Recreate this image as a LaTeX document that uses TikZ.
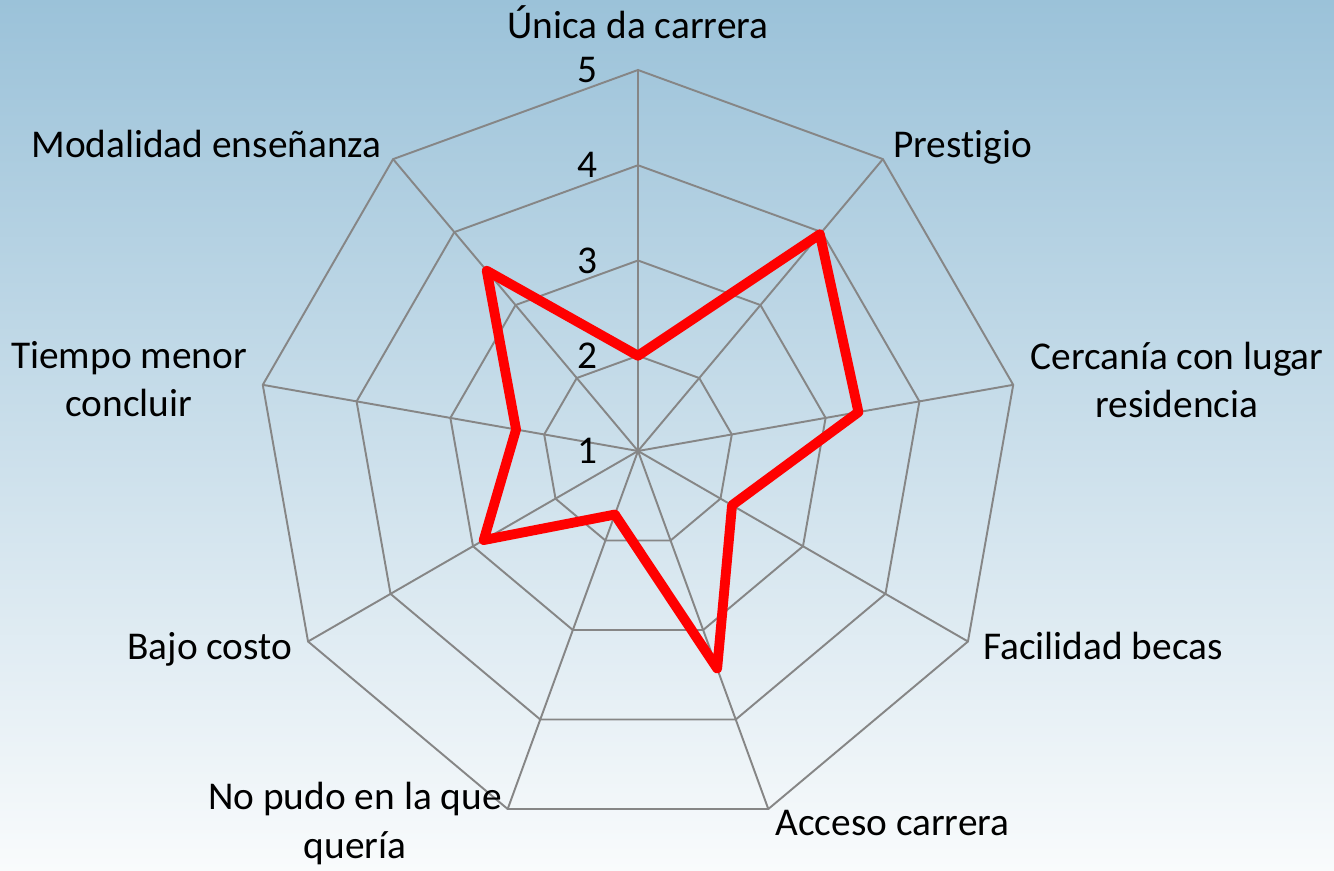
\documentclass[tikz,border=0pt]{standalone}
\usepackage{fontspec}
\setmainfont{Carlito}[Ligatures=NoCommon]
\definecolor{bgtop}{RGB}{155,194,217}
\definecolor{bgbottom}{RGB}{249,251,252}
\definecolor{gridgray}{RGB}{134,134,134}
\begin{document}
\begin{tikzpicture}
            [x=0.02cm,y=0.02cm,
             Grid/.style={draw=gridgray,line width=1.1pt},
             Series/.style={draw=red,line width=5.6pt,line join=round},
             Label/.style={inner sep=0pt,font=\fontsize{22.4pt}{27.6pt}\selectfont},
             Tick/.style={Label}];
            \shade[top color=bgtop,bottom color=bgbottom] (-638,451) rectangle (696,-420);
            \useasboundingbox (-638,451) rectangle (696,-420);
            % grid
            \coordinate (c) at (0,0);
            \foreach \i in {0,...,8}
                \coordinate (v\i) at ({90-40*\i}:381);
            \foreach \l in {2,...,5}
                \draw[Grid] (90:{(\l-1)*95.25}) \foreach \i in {1,...,8} { -- ({90-40*\i}:{(\l-1)*95.25}) } -- cycle;
            \foreach \i in {0,...,8}
                \draw[Grid] (c) -- (v\i);
            % values
            \foreach \v [count=\i from 0] in {2,3.97,3.35,2.14,3.43,1.71,2.87,2.30,3.47}
                \coordinate (d\i) at ({90-40*\i}:{(\v-1)*95.25});
            \draw[Series] (d0) -- (d1) -- (d2) -- (d3) -- (d4) -- (d5) -- (d6) -- (d7) -- (d8) -- cycle;
            % scale
            \foreach \t in {1,...,5}
                \node[Tick] (t\t) at (-51,{(\t-1)*95.25}) {\t};
            % categories
            \node[Label,anchor=base] (unica) at (0,412) {Única da carrera};
            \node[Label,anchor=base west] (prestigio) at (255,293) {Prestigio};
            \node[Label,align=center,anchor=base] (cercania) at (539,33) {Cercanía con lugar\\residencia};
            \node[Label,anchor=base west] (becas) at (345,-208) {Facilidad becas};
            \node[Label,anchor=base west] (acceso) at (137,-384) {Acceso carrera};
            \node[Label,align=center,anchor=base] (nopudo) at (-283,-407) {No pudo en la que\\quería};
            \node[Label,anchor=base west] (costo) at (-511,-208) {Bajo costo};
            \node[Label,align=center,anchor=base] (tiempo) at (-509,34) {Tiempo menor\\concluir};
            \node[Label,anchor=base east] (modalidad) at (-256,293) {Modalidad enseñanza};
        \end{tikzpicture}
\end{document}
